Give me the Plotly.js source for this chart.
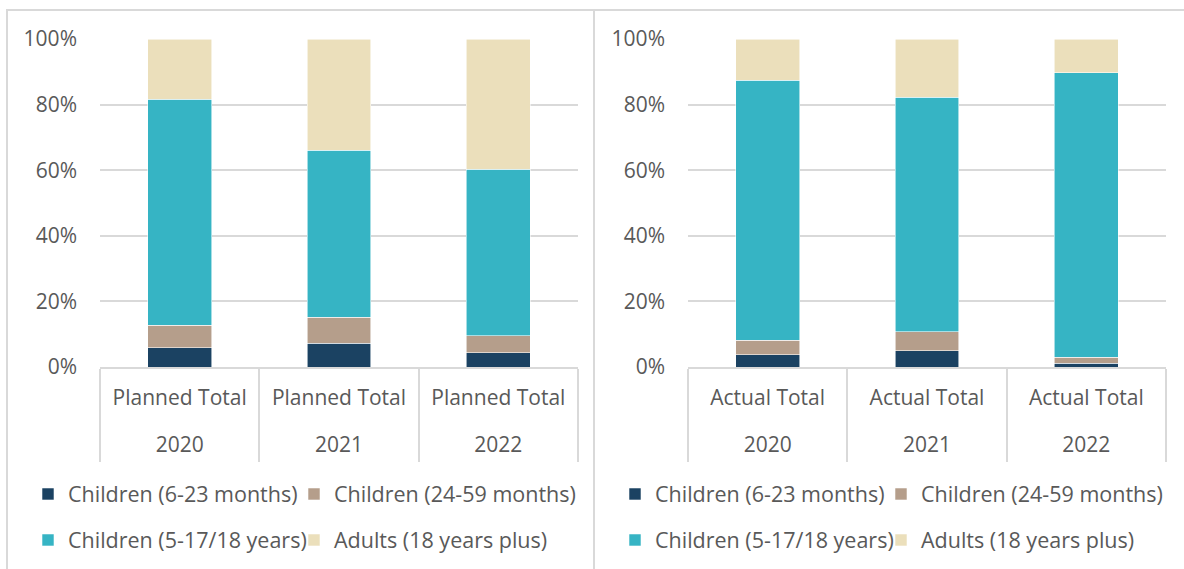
<!DOCTYPE html>
<html>
<head>
<meta charset="utf-8">
<script src="https://cdn.plot.ly/plotly-3.0.1.min.js"></script>
<style>
  html, body { margin: 0; padding: 0; background: #ffffff; }
  #chart { width: 1184px; height: 569px; }
</style>
</head>
<body>
<div id="chart"></div>
<script>
// ---- Data (percent shares) ----
const years = ["2020", "2021", "2022"];
const plannedLabel = "Planned Total";
const actualLabel = "Actual Total";
const seriesNames = ["Children (6-23 months)", "Children (24-59 months)", "Children (5-17/18 years)", "Adults (18 years plus)"];
const seriesColors = ["#1b4262", "#b59e8b", "#36b4c4", "#ebdfbb"];

const planned_6_23   = [5.9, 7.2, 4.4];
const planned_24_59  = [6.9, 8.0, 5.1];
const planned_5_17   = [68.9, 50.9, 50.8];
const planned_adults = [18.3, 33.9, 39.7];

const actual_6_23   = [3.8, 4.9, 1.2];
const actual_24_59  = [4.4, 5.9, 1.7];
const actual_5_17   = [79.3, 71.4, 86.8];
const actual_adults = [12.5, 17.8, 10.3];

const yTickVals = [0, 20, 40, 60, 80, 100];
const yTickText = ["0%", "20%", "40%", "60%", "80%", "100%"];

// ---- Styling ----
const plannedSeries = [planned_6_23, planned_24_59, planned_5_17, planned_adults];
const actualSeries = [actual_6_23, actual_24_59, actual_5_17, actual_adults];
const textColor = "#595959";
const gridColor = "#d9d9d9";
const FS = 21;
const LFS = 21.5;
const LINE_FS = 35.4; // sets the spacing between the two label lines (1.3em)

const W = 1184, H = 569;
const px = v => v / W;
const py = v => 1 - v / H;

// legend slots: [x of legend box, y of row]
const leftCols = [28, 294], rightCols = [615, 881], rows = [494, 540];

const traces = [];
const legendDefs = {};
let legendCount = 0;
function addTraces(seriesList, xa, ya, cols) {
  seriesList.forEach((vals, i) => {
    legendCount += 1;
    const lid = legendCount === 1 ? "legend" : "legend" + legendCount;
    traces.push({
      type: "bar",
      name: seriesNames[i],
      x: years, y: vals,
      xaxis: xa, yaxis: ya,
      marker: { color: seriesColors[i], line: { color: "rgba(255,255,255,0.7)", width: 0.8 } },
      legend: lid,
      hoverinfo: "skip"
    });
    legendDefs[lid] = {
      orientation: "h", xanchor: "left", yanchor: "middle",
      x: px(cols[i % 2]), y: py(rows[Math.floor(i / 2)]),
      bgcolor: "rgba(0,0,0,0)", borderwidth: 0,
      font: { family: "Open Sans", size: LFS, color: textColor },
      itemclick: false, itemdoubleclick: false
    };
  });
}
addTraces(plannedSeries, "x", "y", leftCols);
addTraces(actualSeries, "x2", "y2", rightCols);

const span = t => `<span style="font-size:${FS}px">${t}</span>`;
const catAxis = (label) => ({
  type: "category",
  categoryorder: "array", categoryarray: years,
  tickmode: "array", tickvals: years,
  ticktext: years.map(y => span(label) + "<br>" + span(y)),
  showline: true, linecolor: gridColor, linewidth: 2,
  ticks: "outside", tickson: "boundaries", ticklen: 93, tickwidth: 2, tickcolor: gridColor,
  ticklabelstandoff: -6,
  showgrid: false, zeroline: false,
  tickfont: { family: "Open Sans", size: LINE_FS, color: textColor },
  fixedrange: true
});
const yaxisBase = {
  range: [0, 100], tickmode: "array", tickvals: yTickVals, ticktext: yTickText,
  showgrid: true, gridcolor: gridColor, gridwidth: 2,
  zeroline: false, showline: false, ticks: "",
  ticklabelstandoff: 22,
  tickfont: { family: "Open Sans", size: FS, color: textColor },
  fixedrange: true
};

const layout = Object.assign({
  width: W, height: H,
  margin: { l: 0, r: 0, t: 0, b: 0 },
  paper_bgcolor: "#ffffff", plot_bgcolor: "rgba(0,0,0,0)",
  barmode: "stack", bargap: 0.6,
  showlegend: true,
  font: { family: "Open Sans", color: textColor, size: FS },
  xaxis: Object.assign({}, catAxis(plannedLabel), { domain: [px(100), px(578)], anchor: "y" }),
  yaxis: Object.assign({}, yaxisBase, { domain: [py(367), py(39)], anchor: "x" }),
  xaxis2: Object.assign({}, catAxis(actualLabel), { domain: [px(688), px(1166)], anchor: "y2" }),
  yaxis2: Object.assign({}, yaxisBase, { domain: [py(367), py(39)], anchor: "x2" }),
  shapes: [
    { type: "line", xref: "paper", yref: "paper", x0: px(7), x1: px(7), y0: py(10), y1: py(569), line: { color: gridColor, width: 2 } },
    { type: "line", xref: "paper", yref: "paper", x0: px(6), x1: 1, y0: py(10), y1: py(10), line: { color: gridColor, width: 2 } },
    { type: "line", xref: "paper", yref: "paper", x0: px(594), x1: px(594), y0: py(10), y1: py(569), line: { color: gridColor, width: 2 } }
  ]
}, legendDefs);

Plotly.newPlot("chart", traces, layout, { displayModeBar: false, staticPlot: true });
</script>
</body>
</html>
